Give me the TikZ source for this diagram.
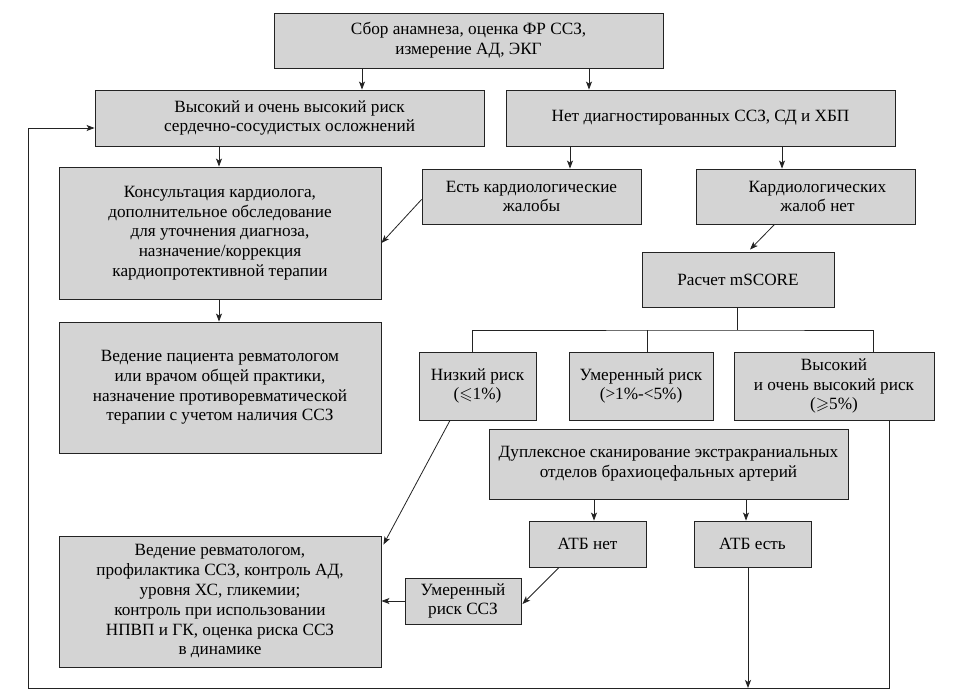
\documentclass[tikz,border=0pt]{standalone}
\usepackage{fontspec}
\setmainfont{Liberation Serif}
\usepackage{amssymb}
\usetikzlibrary{arrows.meta}
\definecolor{boxfill}{RGB}{212,212,212}
\definecolor{edge}{RGB}{35,35,35}
\begin{document}
\begin{tikzpicture}[x=1pt,y=-1pt,
  box/.style={draw=edge, fill=boxfill, line width=0.9pt, align=center, inner sep=0pt,
    font=\fontsize{17.2}{19.8}\selectfont},
  arr/.style={draw=edge, line width=0.8pt, -{Stealth[length=8pt,width=6pt,inset=2pt]}},
  ln/.style={draw=edge, line width=0.8pt}]
\useasboundingbox (0,0) rectangle (960,693);
\fill[white] (0,0) rectangle (960,693);

\node[box, minimum width=389pt, minimum height=55pt] (top) at (468.5,40.5)
  {Сбор анамнеза, оценка ФР ССЗ,\\измерение АД, ЭКГ};
\node[box, minimum width=389pt, minimum height=56pt] (vr) at (289.5,118)
  {Высокий и очень высокий риск\\сердечно-сосудистых осложнений};
\node[box, minimum width=389pt, minimum height=56pt] (net) at (700.5,118)
  {Нет диагностированных ССЗ, СД и ХБП};
\node[box, minimum width=322pt, minimum height=132pt] (kons) at (220,233)
  {Консультация кардиолога,\\дополнительное обследование\\для уточнения диагноза,\\назначение/коррекция\\кардиопротективной терапии};
\node[box, minimum width=322pt, minimum height=131pt] (vedp) at (220,387.5)
  {Ведение пациента ревматологом\\или врачом общей практики,\\назначение противоревматической\\терапии с учетом наличия ССЗ};
\node[box, minimum width=219pt, minimum height=55pt] (est) at (531.5,196.5)
  {Есть кардиологические\\жалобы};
\node[box, minimum width=219pt, minimum height=55pt] (netzh) at (805.5,196.5)
  {\hspace*{24pt}Кардиологических\\\hspace*{24pt}жалоб нет};
\node[box, minimum width=192pt, minimum height=55pt] (rasch) at (738,279.5)
  {Расчет mSCORE};
\node[box, minimum width=117pt, minimum height=68pt] (niz) at (477.5,386)
  {Низкий риск\\($\leqslant$1\%)};
\node[box, minimum width=144pt, minimum height=68pt] (umer) at (641,386)
  {Умеренный риск\\(>1\%-<5\%)};
\node[box, minimum width=200pt, minimum height=68pt] (vys) at (834,386)
  {Высокий\\и очень высокий риск\\($\geqslant$5\%)};
\node[box, minimum width=359pt, minimum height=70pt] (dup) at (668.5,464)
  {Дуплексное сканирование экстракраниальных\\отделов брахиоцефальных артерий};
\node[box, minimum width=117pt, minimum height=46pt] (atbno) at (587.5,544)
  {АТБ нет};
\node[box, minimum width=117pt, minimum height=46pt] (atbyes) at (752.5,544)
  {АТБ есть};
\node[box, minimum width=116pt, minimum height=46pt] (umss) at (463,601)
  {Умеренный\\риск ССЗ};
\node[box, minimum width=322pt, minimum height=131pt] (vedr) at (220,601.5)
  {Ведение ревматологом,\\профилактика ССЗ, контроль АД,\\уровня ХС, гликемии;\\контроль при использовании\\НПВП и ГК, оценка риска ССЗ\\в динамике};

% corner coordinates
\coordinate (tr) at (737,330);
\coordinate (lb) at (28,688);
\coordinate (rb) at (889,688);
\coordinate (lt) at (28,128);

% connectors
\draw[arr] (362,0 |- top.south) -- (362,0 |- vr.north);
\draw[arr] (589,0 |- top.south) -- (589,0 |- net.north);
\draw[arr] (219,0 |- vr.south) -- (219,0 |- kons.north);
\draw[arr] (219,0 |- kons.south) -- (219,0 |- vedp.north);
\draw[arr] (570,0 |- net.south) -- (570,0 |- est.north);
\draw[arr] (782,0 |- net.south) -- (782,0 |- netzh.north);
\draw[arr] ([yshift=-3pt]est.west) -- ([yshift=-10pt]kons.east);
\draw[arr] ([xshift=-31pt]netzh.south) -- ([xshift=12pt,yshift=2pt]rasch.north);

\draw[ln] (rasch.south -| tr) -- (tr);
\draw[ln] (472,0 |- niz.north) |- (tr) -| (873,0 |- vys.north);
\draw[ln] (647,0 |- tr) -- (647,0 |- umer.north);

\draw[arr] ([xshift=-27.5pt]niz.south) -- ([yshift=-9pt,xshift=2pt]vedr.north east);
\draw[arr] (594,0 |- dup.south) -- (594,0 |- atbno.north);
\draw[arr] (746,0 |- dup.south) -- (746,0 |- atbyes.north);
\draw[arr] ([xshift=-28.5pt]atbno.south) -- ([xshift=1pt,yshift=-3pt]umss.east);
\draw[arr] (umss.west) -- (vedr.east |- umss.west);
\draw[arr] (748,0 |- atbyes.south) -- (748,0 |- lb);

\draw[arr] (rb |- vys.south) -- (rb) -- (lb) -- (lt) -- (vr.west |- lt);
\end{tikzpicture}
\end{document}
